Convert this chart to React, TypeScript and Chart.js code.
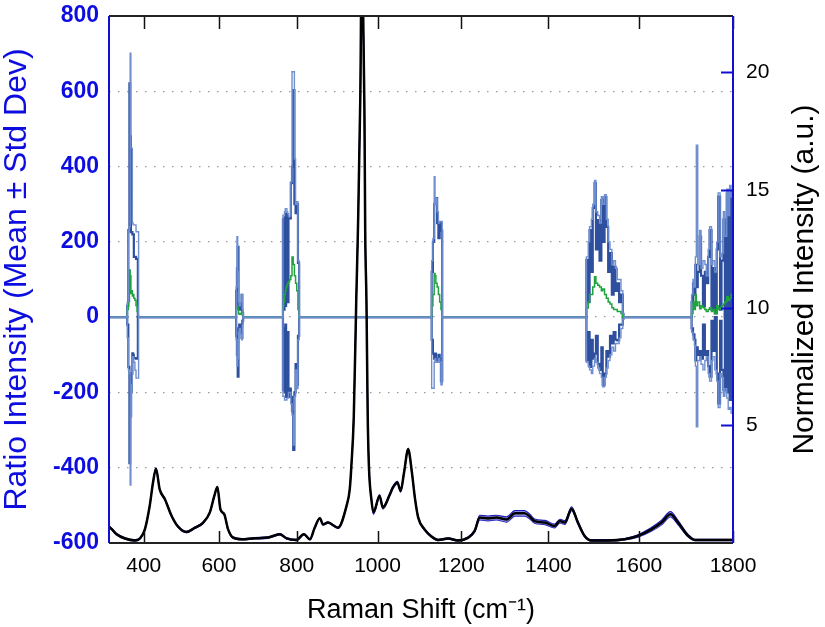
import React, { useEffect, useRef } from 'react';
import { Chart, registerables } from 'chart.js';

Chart.register(...registerables);

// The x axis is linear in absolute wavelength (nm) of the Raman-scattered light.
const LASER_NM = 850;
const K = 1e7 / LASER_NM;
const toW = (s: number) => 1e7 / (K - s);
const toShift = (w: number) => K - 1e7 / w;

const X_MIN = 305;
const X_MAX = 1800;
const xTickShifts = [400, 600, 800, 1000, 1200, 1400, 1600, 1800];
const LEFT_MIN = -600;
const LEFT_MAX = 800;
const LEFT_STEP = 200;
const RIGHT_MIN = 0;
const RIGHT_MAX = 22.4;
const rightTicks = [5, 10, 15, 20];

const xTitle = 'Raman Shift (cm\u207B\u00B9)';
const leftTitle = 'Ratio Intensity (Mean \u00B1 Std Dev)';
const rightTitle = 'Normalized Intensity (a.u.)';

// Normalized Raman spectrum (right axis): mean and standard deviation
const specShift = [
  305, 312, 326, 349, 376, 390, 403, 416, 425, 433,
  443, 457, 475, 492, 515, 537, 559, 576, 588, 596,
  604, 614, 624, 637, 659, 693, 727, 757, 774, 799,
  818, 833, 845, 858, 866, 878, 903, 924, 932, 936,
  942, 948, 952, 958, 961, 965, 968, 970, 973, 976,
  979, 985, 990, 1005, 1013, 1030, 1037, 1048, 1056, 1064,
  1074, 1083, 1090, 1098, 1113, 1130, 1145, 1169, 1192, 1216,
  1231, 1243, 1262, 1281, 1305, 1324, 1346, 1358, 1369, 1392,
  1414, 1426, 1437, 1452, 1466, 1481, 1496, 1533, 1569, 1598,
  1627, 1649, 1668, 1684, 1706, 1720, 1755, 1800,
];
const specMean = [
  0.70, 0.60, 0.37, 0.19, 0.11, 0.20, 0.58, 1.57, 2.57, 3.16,
  2.28, 1.86, 1.15, 0.70, 0.47, 0.65, 0.87, 1.29, 2.00, 2.38,
  1.43, 1.22, 0.58, 0.23, 0.16, 0.20, 0.23, 0.37, 0.20, 0.13,
  0.37, 0.16, 0.65, 1.05, 0.79, 0.87, 0.65, 1.57, 2.28, 3.27,
  5.40, 10.3, 13.2, 19.0, 24.0, 22.5, 18.5, 13.2, 10.3, 5.50,
  3.27, 1.86, 1.30, 2.00, 1.50, 2.07, 2.35, 2.57, 2.21, 2.99,
  3.98, 2.99, 1.93, 1.08, 0.58, 0.27, 0.13, 0.19, 0.11, 0.23,
  0.51, 1.08, 1.04, 1.08, 1.00, 1.26, 1.26, 1.12, 0.93, 0.87,
  0.72, 0.93, 0.87, 1.46, 0.87, 0.30, 0.11, 0.11, 0.16, 0.30,
  0.58, 0.87, 1.22, 0.87, 0.30, 0.13, 0.13, 0.13,
];
const specSd = [
  0.03, 0.03, 0.03, 0.03, 0.03, 0.03, 0.03, 0.03, 0.03, 0.03,
  0.03, 0.03, 0.03, 0.03, 0.03, 0.03, 0.03, 0.03, 0.03, 0.03,
  0.03, 0.03, 0.03, 0.03, 0.03, 0.03, 0.03, 0.03, 0.03, 0.03,
  0.03, 0.03, 0.03, 0.03, 0.03, 0.03, 0.03, 0.03, 0.03, 0.03,
  0.05, 0.05, 0.05, 0.05, 0.05, 0.05, 0.05, 0.05, 0.05, 0.05,
  0.06, 0.06, 0.08, 0.06, 0.06, 0.05, 0.05, 0.05, 0.05, 0.05,
  0.05, 0.05, 0.04, 0.04, 0.03, 0.03, 0.03, 0.03, 0.03, 0.03,
  0.05, 0.10, 0.10, 0.10, 0.11, 0.12, 0.12, 0.10, 0.09, 0.09,
  0.08, 0.08, 0.08, 0.08, 0.06, 0.04, 0.03, 0.03, 0.03, 0.05,
  0.08, 0.10, 0.11, 0.09, 0.05, 0.03, 0.03, 0.03,
];

// Ratio intensity (left axis): one line per band cluster
const ratioShift = [
  305,
  352, 355, 358, 361, 363, 365, 367, 369, 371, 373, 376, 379, 382, 384, 386, 388,
  642, 645, 647, 649, 651, 653, 656, 659, 661, 663,
  762, 765, 767, 769, 771, 773, 775, 777, 779, 782, 785, 788, 791, 794, 797, 800, 803, 806, 809,
  1127, 1130, 1133, 1136, 1138, 1140, 1143, 1146, 1149, 1152, 1155, 1158,
  1482, 1485, 1489, 1492, 1496, 1499, 1503, 1506, 1510, 1514, 1518, 1521, 1525, 1529, 1533, 1537, 1541, 1545, 1549, 1553, 1557, 1561, 1565, 1568,
  1706, 1710, 1713, 1716, 1719, 1721, 1723, 1726, 1730, 1733, 1737, 1741, 1744, 1748, 1751, 1755, 1758, 1762, 1766, 1769, 1773, 1776, 1780, 1783, 1787, 1790, 1793, 1796, 1800,
];
const ratioMean = [
  0,
  0, 20, 41, 125, 110, 63, 70, 56, 60, 50, 45, 30, 15, 5, 0, 0,
  0, 20, 30, 25, 10, 8, 10, 15, 5, 0,
  0, 30, 40, 60, 70, 80, 85, 90, 95, 100, 110, 160, 140, 110, 90, 70, 20, 0, 0,
  0, 30, 60, 116, 110, 90, 80, 60, 40, 20, 0, 0,
  0, 24, 40, 60, 60, 80, 107, 90, 85, 80, 70, 75, 60, 50, 40, 35, 25, 20, 20, 15, 15, 10, 0, 0,
  0, 0, 10, 40, 20, 60, 30, 40, 22, 30, 25, 20, 15, 20, 25, 15, 20, 10, 30, 20, 25, 30, 35, 40, 54, 45, 50, 60, 50,
];
const ratioUpper = [
  0,
  0, 30, 231, 621, 480, 226, 226, 220, 220, 160, 160, 155, 155, 0, 0, 0,
  0, 70, 130, 187, 30, 20, 35, 59, 10, 0,
  0, 260, 20, 265, 30, 275, 263, 40, 262, 262, 356, 400, 603, 300, 276, 300, 144, 0, 0,
  0, 120, 200, 300, 302, 316, 250, 210, 250, 230, 0, 0,
  0, 152, 40, 231, 120, 290, 356, 180, 258, 150, 311, 200, 319, 240, 120, 170, 60, 134, 70, 90, 40, 60, 0, 0,
  0, 0, 40, 90, 60, 139, 80, 120, 214, 110, 30, 120, 90, 160, 231, 20, 130, 10, 180, 320, 20, 150, 260, 0, 329, -50, 337, 0, 330,
];
const ratioLower = [
  0,
  0, -20, -132, -388, -264, -200, -150, -96, -100, -109, -109, -110, -109, 0, 0, 0,
  0, -50, -100, -158, -30, -20, -40, -55, -10, 0,
  0, -194, -30, -200, -20, -212, -212, -40, -212, -190, -212, -250, -353, -200, -125, -180, -50, 0, 0,
  0, -60, -97, -110, -97, -115, -110, -100, -110, -170, 0, 0,
  0, -115, -40, -132, -60, -110, -97, -50, -124, -140, -80, -180, -150, -90, -105, -50, -70, -40, -60, -62, -20, -20, 0, 0,
  0, 0, -30, -46, -60, -115, -80, -100, -90, -110, -20, -100, -90, -130, -158, -10, -90, 0, -150, -229, -10, -140, -194, 20, -200, 30, -220, 0, -235,
];
const ratioMax = [
  0,
  0, 40, 231, 240, 701, 449, 449, 250, 245, 245, 245, 227, 227, 227, 0, 0,
  0, 80, 214, 120, 40, 30, 40, 60, 20, 0,
  0, 271, 271, 280, 288, 288, 280, 275, 268, 268, 360, 652, 652, 420, 300, 307, 150, 0, 0,
  0, 150, 209, 373, 300, 316, 280, 250, 254, 254, 0, 0,
  0, 160, 200, 240, 260, 300, 363, 280, 270, 250, 320, 300, 325, 260, 200, 180, 140, 150, 130, 100, 100, 70, 10, 0,
  0, 0, 60, 100, 80, 160, 457, 140, 230, 130, 150, 140, 110, 180, 240, 140, 150, 120, 200, 330, 160, 170, 280, 215, 340, 270, 350, 320, 340,
];
const ratioMin = [
  0,
  0, -55, -140, -150, -446, -264, -180, -105, -105, -120, -141, -162, -162, -162, 0, 0,
  0, -60, -130, -110, -40, -30, -45, -60, -20, 0,
  0, -210, -210, -220, -220, -220, -215, -215, -200, -200, -230, -260, -340, -210, -140, -190, -60, 0, 0,
  0, -189, -189, -120, -110, -120, -120, -110, -120, -180, 0, 0,
  0, -120, -130, -140, -150, -130, -110, -120, -135, -150, -160, -185, -160, -135, -115, -100, -80, -90, -70, -70, -55, -30, -5, 0,
  0, 0, -40, -60, -75, -130, -291, -115, -105, -125, -140, -115, -105, -150, -170, -115, -105, -140, -170, -240, -150, -160, -210, -190, -215, -245, -240, -255, -250,
];

const FONT = "'Liberation Sans', Arial, Helvetica, sans-serif";
const BLUE_TEXT = '#0d0de0';
const AXIS_BLUE = '#1010d0';
const LIGHT = '#6f8fd1';
const DARK = '#2d4f9e';
const GREEN = '#1fa33c';

const ratioPts = (ys: number[]) => ratioShift.map((s, i) => ({ x: toW(s), y: ys[i] }));
const specPts = (ys: number[]) => specShift.map((s, i) => ({ x: toW(s), y: ys[i] }));

const framePlugin = {
  id: 'frame',
  afterDraw(chart: any) {
    const { ctx, chartArea } = chart;
    const { left, right, top, bottom } = chartArea;
    const x = chart.scales.x;
    const y2 = chart.scales.y2;
    ctx.save();
    // x tick marks (inside, bottom & top)
    ctx.strokeStyle = '#111';
    ctx.lineWidth = 1.5;
    for (const t of xTickShifts) {
      const px = Math.round(x.getPixelForValue(toW(t))) + 0.5;
      ctx.beginPath();
      ctx.moveTo(px, bottom);
      ctx.lineTo(px, bottom - 12);
      ctx.moveTo(px, top);
      ctx.lineTo(px, top + 13);
      ctx.stroke();
    }
    // right axis tick marks (inside, blue)
    ctx.strokeStyle = AXIS_BLUE;
    ctx.lineWidth = 2;
    for (const v of rightTicks) {
      const py = Math.round(y2.getPixelForValue(v)) + 0.5;
      ctx.beginPath();
      ctx.moveTo(right, py);
      ctx.lineTo(right - 12, py);
      ctx.stroke();
    }
    // frame
    ctx.lineWidth = 2;
    ctx.strokeStyle = '#222';
    ctx.beginPath();
    ctx.moveTo(left, top);
    ctx.lineTo(right, top);
    ctx.moveTo(left, bottom);
    ctx.lineTo(right, bottom);
    ctx.stroke();
    ctx.strokeStyle = AXIS_BLUE;
    ctx.beginPath();
    ctx.moveTo(left, top);
    ctx.lineTo(left, bottom);
    ctx.moveTo(right, top);
    ctx.lineTo(right, bottom);
    ctx.stroke();
    // right title, reading bottom to top
    ctx.fillStyle = '#000';
    ctx.font = `30px ${FONT}`;
    ctx.textAlign = 'center';
    ctx.textBaseline = 'middle';
    ctx.translate(chart.width - 20, (top + bottom) / 2);
    ctx.rotate(-Math.PI / 2);
    ctx.fillText(rightTitle, 0, 0);
    ctx.restore();
  },
};

const noVPad = (scale: any) => {
  scale.paddingTop = 0;
  scale.paddingBottom = 0;
};

export default function App() {
  const ref = useRef<HTMLCanvasElement>(null);
  useEffect(() => {
    if (!ref.current) return;
    const line = (data: any, color: string, width: number, order: number, extra: any = {}) => ({
      data,
      borderColor: color,
      backgroundColor: color,
      borderWidth: width,
      pointRadius: 0,
      order,
      ...extra,
    });
    const chart = new Chart(ref.current, {
      type: 'line',
      data: {
        datasets: [
          line(specPts(specMean), '#000', 2.5, 0, { yAxisID: 'y2', cubicInterpolationMode: 'monotone' }),
          line(specPts(specMean.map((m, i) => m + specSd[i])), '#1c1cb8', 1.2, 1, {
            yAxisID: 'y2', cubicInterpolationMode: 'monotone', fill: '+1', backgroundColor: 'rgba(110,110,230,0.55)',
          }),
          line(specPts(specMean.map((m, i) => m - specSd[i])), '#1c1cb8', 1.2, 1, {
            yAxisID: 'y2', cubicInterpolationMode: 'monotone',
          }),
          line(ratioPts(ratioMax), LIGHT, 1.4, 2, { yAxisID: 'y', stepped: true }),
          line(ratioPts(ratioMin), LIGHT, 1.4, 2, { yAxisID: 'y', stepped: true }),
          line(ratioPts(ratioMean), GREEN, 1.5, 3, { yAxisID: 'y', stepped: true }),
          line(ratioPts(ratioUpper), DARK, 2.2, 4, { yAxisID: 'y', stepped: true }),
          line(ratioPts(ratioLower), DARK, 2.2, 4, { yAxisID: 'y', stepped: true }),
        ],
      },
      options: {
        responsive: false,
        animation: false,
        devicePixelRatio: 1,
        layout: { padding: { top: 16, left: 0, right: 0, bottom: 0 } },
        plugins: { legend: { display: false }, tooltip: { enabled: false } },
        scales: {
          x: {
            type: 'linear',
            min: toW(X_MIN),
            max: toW(X_MAX),
            afterBuildTicks: (scale: any) => {
              scale.ticks = xTickShifts.map((s) => ({ value: toW(s) }));
            },
            afterFit: (scale: any) => {
              scale.height = 84;
              scale.paddingLeft = 0;
              scale.paddingRight = 0;
            },
            grid: { display: false, drawTicks: false },
            border: { display: false },
            ticks: {
              color: '#000',
              font: { family: FONT, size: 21 },
              padding: 11,
              maxRotation: 0,
              autoSkip: false,
              callback: (v: any) => String(Math.round(toShift(Number(v)))),
            },
            title: {
              display: true,
              text: xTitle,
              color: '#000',
              font: { family: FONT, size: 27, lineHeight: 1 },
              padding: { top: 0, bottom: 3 },
            },
          },
          y: {
            type: 'linear',
            position: 'left',
            min: LEFT_MIN,
            max: LEFT_MAX,
            afterFit: (scale: any) => {
              scale.width = 109;
              noVPad(scale);
            },
            ticks: {
              stepSize: LEFT_STEP,
              color: BLUE_TEXT,
              font: { family: FONT, size: 23, weight: 'bold' },
              padding: 10,
            },
            grid: { color: '#9a9a9a', lineWidth: 1.3, drawTicks: false },
            border: { display: false, dash: [1.5, 7.5] },
            title: {
              display: true,
              text: leftTitle,
              color: BLUE_TEXT,
              font: { family: FONT, size: 32, lineHeight: 1 },
              padding: { top: 1, bottom: 0 },
            },
          },
          y2: {
            type: 'linear',
            position: 'right',
            min: RIGHT_MIN,
            max: RIGHT_MAX,
            afterBuildTicks: (scale: any) => {
              scale.ticks = rightTicks.map((v) => ({ value: v }));
            },
            afterFit: (scale: any) => {
              scale.width = 92;
              noVPad(scale);
            },
            ticks: {
              color: '#000',
              font: { family: FONT, size: 21 },
              padding: 13,
            },
            grid: { display: false, drawTicks: false },
            border: { display: false },
          },
        },
      },
      plugins: [framePlugin],
    } as any);
    return () => chart.destroy();
  }, []);
  return (
    <div style={{ position: 'fixed', left: 0, top: 0, width: 825, height: 627, background: '#fff' }}>
      <canvas ref={ref} width={825} height={627} style={{ display: 'block' }} />
    </div>
  );
}
